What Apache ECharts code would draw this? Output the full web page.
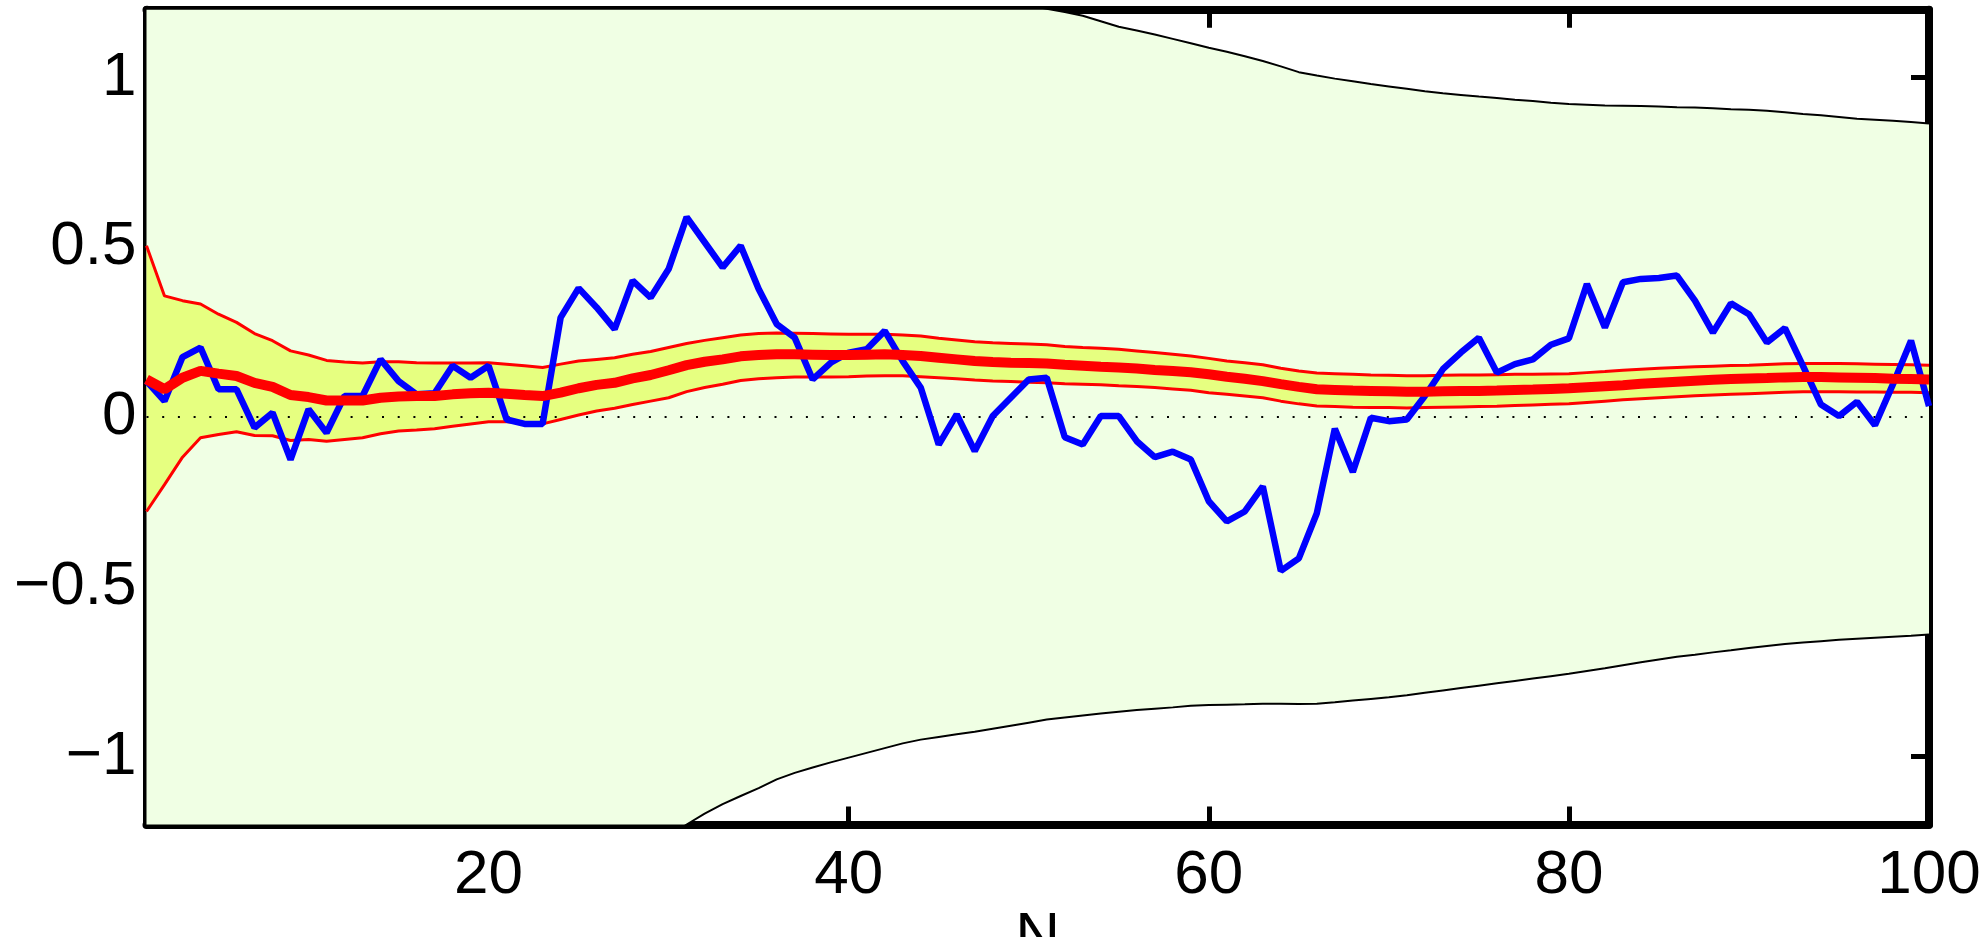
<!DOCTYPE html>
<html>
<head>
<meta charset="utf-8">
<script src="https://cdn.jsdelivr.net/npm/echarts@6/dist/echarts.min.js"></script>
<style>
    html, body { margin: 0; padding: 0; background: #fff; }
    #chart { width: 1988px; height: 937px; }
</style>
</head>
<body>
<div id="chart"></div>
<script>
// x positions: N = 1..100
const nValues = [];
for (let i = 1; i <= 100; i++) nValues.push(i);

const xTicks = [20, 40, 60, 80, 100];
const yTicks = [-1, -0.5, 0, 0.5, 1];

// observed series (blue)
const observed = [
    0.106, 0.047, 0.177, 0.205, 0.082, 0.082, -0.031, 0.013, -0.125, 0.023,
    -0.046, 0.062, 0.062, 0.170, 0.106, 0.067, 0.070, 0.151, 0.116, 0.151,
    -0.007, -0.020, -0.020, 0.293, 0.380, 0.323, 0.259, 0.402, 0.352, 0.436,
    0.589, 0.515, 0.441, 0.505, 0.377, 0.274, 0.234, 0.111, 0.160, 0.190,
    0.200, 0.254, 0.165, 0.087, -0.081, 0.008, -0.100, 0.003, 0.057, 0.111,
    0.116, -0.059, -0.081, 0.003, 0.003, -0.071, -0.118, -0.102, -0.125, -0.248,
    -0.307, -0.278, -0.204, -0.453, -0.416, -0.283, -0.034, -0.162, -0.002, -0.012,
    -0.007, 0.062, 0.141, 0.190, 0.234, 0.131, 0.156, 0.170, 0.213, 0.232,
    0.392, 0.264, 0.397, 0.407, 0.410, 0.417, 0.343, 0.249, 0.335, 0.303,
    0.220, 0.262, 0.151, 0.037, 0.003, 0.045, -0.024, 0.097, 0.225, 0.032
];

// mean (thick red)
const meanLine = [
    0.111, 0.082, 0.116, 0.136, 0.128, 0.121, 0.101, 0.089, 0.065, 0.059,
    0.049, 0.049, 0.049, 0.057, 0.061, 0.062, 0.062, 0.067, 0.070, 0.072,
    0.069, 0.065, 0.062, 0.072, 0.085, 0.095, 0.101, 0.114, 0.124, 0.138,
    0.153, 0.163, 0.170, 0.179, 0.183, 0.185, 0.185, 0.184, 0.183, 0.183,
    0.184, 0.185, 0.183, 0.180, 0.175, 0.170, 0.165, 0.162, 0.160, 0.159,
    0.158, 0.154, 0.151, 0.148, 0.146, 0.143, 0.139, 0.136, 0.132, 0.126,
    0.119, 0.113, 0.106, 0.097, 0.089, 0.082, 0.080, 0.078, 0.077, 0.076,
    0.075, 0.075, 0.076, 0.077, 0.077, 0.078, 0.080, 0.081, 0.083, 0.085,
    0.088, 0.091, 0.094, 0.098, 0.101, 0.104, 0.107, 0.110, 0.112, 0.114,
    0.115, 0.117, 0.118, 0.118, 0.117, 0.116, 0.115, 0.113, 0.112, 0.111
];

// inner band (thin red lines, yellow fill)
const bandUpper = [
    0.505, 0.357, 0.343, 0.333, 0.303, 0.279, 0.246, 0.225, 0.195, 0.183,
    0.167, 0.162, 0.159, 0.163, 0.163, 0.160, 0.159, 0.159, 0.159, 0.160,
    0.156, 0.151, 0.146, 0.156, 0.165, 0.170, 0.175, 0.185, 0.193, 0.205,
    0.217, 0.226, 0.234, 0.242, 0.246, 0.248, 0.247, 0.246, 0.245, 0.244,
    0.244, 0.244, 0.242, 0.239, 0.232, 0.227, 0.222, 0.219, 0.217, 0.215,
    0.213, 0.208, 0.205, 0.203, 0.200, 0.195, 0.190, 0.185, 0.180, 0.173,
    0.165, 0.160, 0.154, 0.144, 0.136, 0.130, 0.128, 0.126, 0.124, 0.123,
    0.122, 0.122, 0.123, 0.124, 0.124, 0.125, 0.126, 0.126, 0.127, 0.128,
    0.131, 0.134, 0.138, 0.141, 0.144, 0.146, 0.148, 0.150, 0.152, 0.153,
    0.155, 0.157, 0.158, 0.158, 0.158, 0.157, 0.156, 0.155, 0.154, 0.153
];
const bandLower = [
    -0.278, -0.199, -0.118, -0.061, -0.051, -0.043, -0.054, -0.055, -0.069, -0.066,
    -0.071, -0.066, -0.061, -0.049, -0.041, -0.038, -0.034, -0.027, -0.020, -0.014,
    -0.014, -0.017, -0.020, -0.007, 0.006, 0.018, 0.026, 0.037, 0.047, 0.057,
    0.075, 0.087, 0.097, 0.108, 0.113, 0.116, 0.118, 0.118, 0.118, 0.119,
    0.121, 0.122, 0.122, 0.119, 0.116, 0.113, 0.109, 0.106, 0.105, 0.103,
    0.101, 0.098, 0.097, 0.095, 0.092, 0.090, 0.087, 0.083, 0.079, 0.072,
    0.067, 0.062, 0.057, 0.047, 0.039, 0.033, 0.031, 0.029, 0.028, 0.028,
    0.027, 0.028, 0.029, 0.030, 0.031, 0.032, 0.034, 0.036, 0.038, 0.039,
    0.043, 0.047, 0.051, 0.054, 0.057, 0.060, 0.063, 0.065, 0.067, 0.069,
    0.071, 0.073, 0.075, 0.075, 0.075, 0.074, 0.074, 0.073, 0.073, 0.072
];

// outer envelope (thin black lines, pale green fill)
const envUpper = [
    3.200, 2.900, 2.700, 2.550, 2.420, 2.320, 2.230, 2.150, 2.080, 2.020,
    1.960, 1.910, 1.860, 1.820, 1.780, 1.740, 1.710, 1.680, 1.650, 1.620,
    1.590, 1.570, 1.540, 1.520, 1.500, 1.480, 1.460, 1.440, 1.420, 1.400,
    1.385, 1.370, 1.355, 1.340, 1.325, 1.310, 1.300, 1.290, 1.280, 1.270,
    1.260, 1.252, 1.244, 1.237, 1.230, 1.226, 1.222, 1.219, 1.216, 1.213,
    1.203, 1.193, 1.182, 1.166, 1.150, 1.139, 1.127, 1.114, 1.101, 1.088,
    1.076, 1.063, 1.049, 1.033, 1.016, 1.006, 0.997, 0.989, 0.981, 0.974,
    0.967, 0.960, 0.954, 0.949, 0.944, 0.940, 0.935, 0.931, 0.926, 0.922,
    0.920, 0.918, 0.917, 0.916, 0.915, 0.913, 0.912, 0.910, 0.907, 0.905,
    0.902, 0.898, 0.893, 0.889, 0.884, 0.879, 0.876, 0.873, 0.869, 0.865
];
const envLower = [
    -4.600, -4.000, -3.600, -3.320, -3.100, -2.920, -2.760, -2.620, -2.500, -2.390,
    -2.290, -2.200, -2.120, -2.040, -1.970, -1.900, -1.840, -1.780, -1.720, -1.670,
    -1.620, -1.570, -1.520, -1.470, -1.430, -1.390, -1.350, -1.310, -1.272, -1.235,
    -1.200, -1.168, -1.140, -1.116, -1.093, -1.067, -1.048, -1.032, -1.017, -1.003,
    -0.989, -0.975, -0.961, -0.950, -0.942, -0.934, -0.927, -0.918, -0.909, -0.900,
    -0.891, -0.885, -0.879, -0.873, -0.868, -0.863, -0.859, -0.855, -0.850, -0.848,
    -0.847, -0.846, -0.844, -0.844, -0.845, -0.844, -0.840, -0.835, -0.830, -0.825,
    -0.819, -0.812, -0.805, -0.798, -0.791, -0.784, -0.777, -0.770, -0.763, -0.756,
    -0.748, -0.740, -0.731, -0.722, -0.714, -0.706, -0.700, -0.693, -0.687, -0.680,
    -0.674, -0.668, -0.664, -0.660, -0.656, -0.653, -0.650, -0.647, -0.644, -0.640
];

const pts = arr => arr.map((v, i) => [nValues[i], v]);

const FONT = '"Liberation Sans", Arial, Helvetica, sans-serif';

const chart = echarts.init(document.getElementById('chart'), null, { renderer: 'canvas' });

const baseX = {
    type: 'value',
    min: 1,
    max: 100,
    splitLine: { show: false },
    axisLine: { onZero: false, lineStyle: { color: '#000', width: 8 } },
    axisTick: { inside: true, length: 18, lineStyle: { color: '#000', width: 5 }, customValues: xTicks }
};
const baseY = {
    type: 'value',
    min: -1.2,
    max: 1.2,
    splitLine: { show: false },
    axisLine: { onZero: false, lineStyle: { color: '#000', width: 8 } },
    axisTick: { inside: true, length: 18, lineStyle: { color: '#000', width: 5 }, customValues: yTicks }
};

const thinLine = (data, color, width) => ({
    type: 'line',
    data: pts(data),
    showSymbol: false,
    silent: true,
    z: 10,
    lineStyle: { color: color, width: width }
});

// filled region between two curves, one polygon mapped through the axes
const fillBetween = (lower, upper, color) => ({
    type: 'custom',
    coordinateSystem: 'cartesian2d',
    clip: true,
    silent: true,
    z: 2,
    data: [[nValues[0], lower[0]]],
    renderItem: (params, api) => {
        const poly = [];
        for (let i = 0; i < upper.length; i++) poly.push(api.coord([nValues[i], upper[i]]));
        for (let i = lower.length - 1; i >= 0; i--) poly.push(api.coord([nValues[i], lower[i]]));
        return { type: 'polygon', shape: { points: poly }, style: { fill: color, stroke: null } };
    }
});

const bandFill = fillBetween(bandLower, bandUpper, '#e6ff80');
bandFill.markLine = {
    silent: true,
    symbol: 'none',
    label: { show: false },
    lineStyle: { color: '#000', width: 2, type: [2, 13.7] },
    data: [{ yAxis: 0 }]
};

let option = {
    animation: false,
    backgroundColor: '#ffffff',
    grid: {
        left: 146.5,
        right: 59,
        top: 9.7,
        bottom: 112.5,
        containLabel: false,
        outerBoundsMode: 'none'
    },
    xAxis: [
        Object.assign({}, baseX, {
            position: 'bottom',
            axisLabel: {
                customValues: xTicks,
                color: '#000',
                fontSize: 62,
                fontFamily: FONT,
                margin: 20
            },
            name: 'N',
            nameLocation: 'middle',
            nameGap: 82,
            nameMoveOverlap: false,
            nameTextStyle: { color: '#000', fontSize: 62, fontFamily: FONT }
        }),
        Object.assign({}, baseX, {
            position: 'top',
            axisLabel: { show: false }
        })
    ],
    yAxis: [
        Object.assign({}, baseY, {
            position: 'left',
            axisLabel: {
                customValues: yTicks,
                color: '#000',
                fontSize: 62,
                fontFamily: FONT,
                margin: 10,
                formatter: v => (v < 0 ? '\u2212' + (-v) : String(v))
            }
        }),
        Object.assign({}, baseY, {
            position: 'right',
            axisLabel: { show: false }
        })
    ],
    series: [
        fillBetween(envLower, envUpper, '#f0ffe4'),
        bandFill,
        thinLine(envUpper, '#000', 2),
        thinLine(envLower, '#000', 2),
        thinLine(bandUpper, '#ff0000', 3),
        thinLine(bandLower, '#ff0000', 3),
        thinLine(observed, '#0000ff', 6.5),
        thinLine(meanLine, '#ff0000', 10)
    ]
};

chart.setOption(option, true);
</script>
</body>
</html>
